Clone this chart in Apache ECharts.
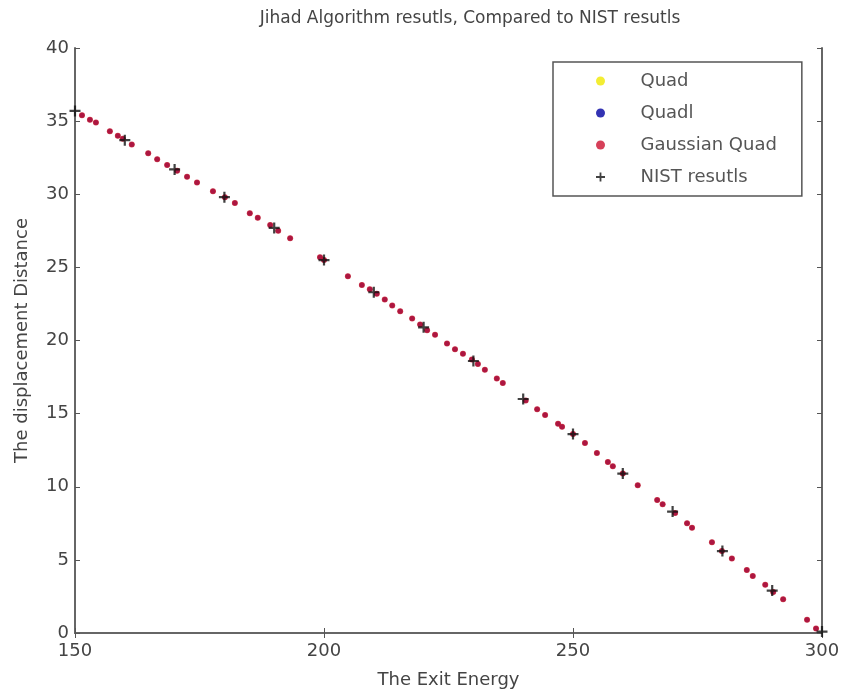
<!DOCTYPE html>
<html lang="en">
<head>
    <meta charset="UTF-8">
    <title>Jihad Algorithm</title>
    <script src="https://cdn.jsdelivr.net/npm/echarts@6/dist/echarts.min.js"></script>
    <style>
        body { margin: 0; background: #fff; }
    </style>
</head>
<body>
    <div id="main" style="width: 845px;height:698px;"></div>
    <script type="text/javascript">
        // NIST reference values (x = exit energy, y = displacement distance)
        var nistX = [150, 160, 170, 180, 190, 200, 210, 220, 230, 240, 250, 260, 270, 280, 290, 300];
        var nistY = [35.7, 33.7, 31.7, 29.8, 27.7, 25.5, 23.3, 20.9, 18.6, 16.0, 13.6, 10.9, 8.3, 5.6, 2.9, 0.1];

        // algorithm points (the three methods sit on top of each other)
        var algoX = [151.4, 153, 154.2, 157, 158.6, 159.6, 161.4, 164.7, 166.5, 168.5, 170.5, 172.5, 174.5,
            177.7, 180.1, 182.1, 185.1, 186.7, 189.2, 190.8, 193.2, 199.2, 200, 204.8, 207.6, 209.2, 210.6,
            212.2, 213.7, 215.3, 217.7, 219.3, 220.7, 222.3, 224.7, 226.3, 227.9, 229.7, 230.9, 232.3, 234.7,
            235.9, 240.5, 242.8, 244.4, 247, 247.8, 250, 252.4, 254.8, 257, 258, 260, 263, 266.9, 268, 270.5,
            272.9, 273.9, 277.9, 279.9, 281.9, 284.9, 286.1, 288.6, 290.2, 292.2, 297, 298.8];
        var algoY = [35.4, 35.1, 34.9, 34.3, 34.0, 33.8, 33.4, 32.8, 32.4, 32.0, 31.6, 31.2, 30.8,
            30.2, 29.8, 29.4, 28.7, 28.4, 27.9, 27.5, 27.0, 25.7, 25.5, 24.4, 23.8, 23.5, 23.2,
            22.8, 22.4, 22.0, 21.5, 21.1, 20.7, 20.4, 19.8, 19.4, 19.1, 18.7, 18.4, 18.0, 17.4,
            17.1, 15.9, 15.3, 14.9, 14.3, 14.1, 13.6, 13.0, 12.3, 11.7, 11.4, 10.9, 10.1, 9.1, 8.8, 8.2,
            7.5, 7.2, 6.2, 5.6, 5.1, 4.3, 3.9, 3.3, 2.8, 2.3, 0.9, 0.3];

        var xTicks = [150, 200, 250, 300];
        var yTicks = [0, 5, 10, 15, 20, 25, 30, 35, 40];

        function pairs(xs, ys) {
            var out = [];
            for (var i = 0; i < xs.length; i++) out.push([xs[i], ys[i]]);
            return out;
        }

        var plusPath = 'path://M4,0 L6,0 L6,4 L10,4 L10,6 L6,6 L6,10 L4,10 L4,6 L0,6 L0,4 L4,4 Z';
        var fontName = 'DejaVu Sans';
        var frame = { show: true, lineStyle: { color: '#666', width: 2 } };
        var tick = { show: true, inside: true, length: 5, lineStyle: { color: '#555' } };

        var myChart = echarts.init(document.getElementById('main'));
        var option = {
            animation: false,
            backgroundColor: '#fff',
            title: {
                text: 'Jihad Algorithm resutls, Compared to NIST resutls',
                left: 465,
                textAlign: 'center',
                top: 5,
                textStyle: { fontFamily: fontName, fontSize: 17, fontWeight: 'normal', color: '#444' }
            },
            legend: {
                orient: 'vertical',
                left: 553,
                top: 62,
                padding: [10, 25, 10, 43],
                itemGap: 14,
                itemWidth: 26,
                itemHeight: 9,
                itemSymbolKeepAspect: true,
                borderColor: '#555',
                borderWidth: 1.5,
                backgroundColor: '#fff',
                textStyle: { fontFamily: fontName, fontSize: 18, color: '#555', padding: [0, 0, 0, 22] },
                data: [
                    { name: 'Quad', icon: 'circle' },
                    { name: 'Quadl', icon: 'circle' },
                    { name: 'Gaussian Quad', icon: 'circle' },
                    { name: 'NIST resutls', icon: plusPath }
                ]
            },
            grid: { left: 75, right: 23, top: 48, bottom: 65, containLabel: false },
            xAxis: [{
                type: 'value',
                min: 150, max: 300, interval: 50,
                name: 'The Exit Energy',
                nameLocation: 'middle',
                nameGap: 38,
                nameTextStyle: { fontFamily: fontName, fontSize: 18, color: '#444' },
                axisLine: frame,
                axisTick: tick,
                splitLine: { show: false },
                axisLabel: {
                    margin: 9,
                    fontFamily: fontName, fontSize: 18, color: '#444',
                    customValues: xTicks
                }
            }, {
                type: 'value', position: 'top',
                min: 150, max: 300, interval: 50,
                axisLine: frame, axisTick: tick,
                axisLabel: { show: false }, splitLine: { show: false }
            }],
            yAxis: [{
                type: 'value',
                min: 0, max: 40, interval: 5,
                name: 'The displacement Distance',
                nameLocation: 'middle',
                nameGap: 44,
                nameTextStyle: { fontFamily: fontName, fontSize: 18, color: '#444' },
                axisLine: frame,
                axisTick: tick,
                splitLine: { show: false },
                axisLabel: {
                    margin: 6,
                    fontFamily: fontName, fontSize: 18, color: '#444',
                    customValues: yTicks
                }
            }, {
                type: 'value', position: 'right',
                min: 0, max: 40, interval: 5,
                axisLine: frame, axisTick: tick,
                axisLabel: { show: false }, splitLine: { show: false }
            }],
            series: [{
                name: 'Quad',
                type: 'scatter',
                symbol: 'circle',
                symbolSize: 5,
                itemStyle: { color: '#f0e800' },
                data: pairs(algoX, algoY)
            }, {
                name: 'Quadl',
                type: 'scatter',
                symbol: 'circle',
                symbolSize: 5,
                itemStyle: { color: '#0000a0' },
                data: pairs(algoX, algoY)
            }, {
                name: 'Gaussian Quad',
                type: 'scatter',
                symbol: 'circle',
                symbolSize: 6,
                itemStyle: { color: '#cc1030' },
                data: pairs(algoX, algoY)
            }, {
                name: 'NIST resutls',
                type: 'scatter',
                symbol: plusPath,
                symbolSize: 11,
                itemStyle: { color: '#111' },
                z: 5,
                data: pairs(nistX, nistY)
            }]
        };
        myChart.setOption(option);
    </script>
</body>
</html>
